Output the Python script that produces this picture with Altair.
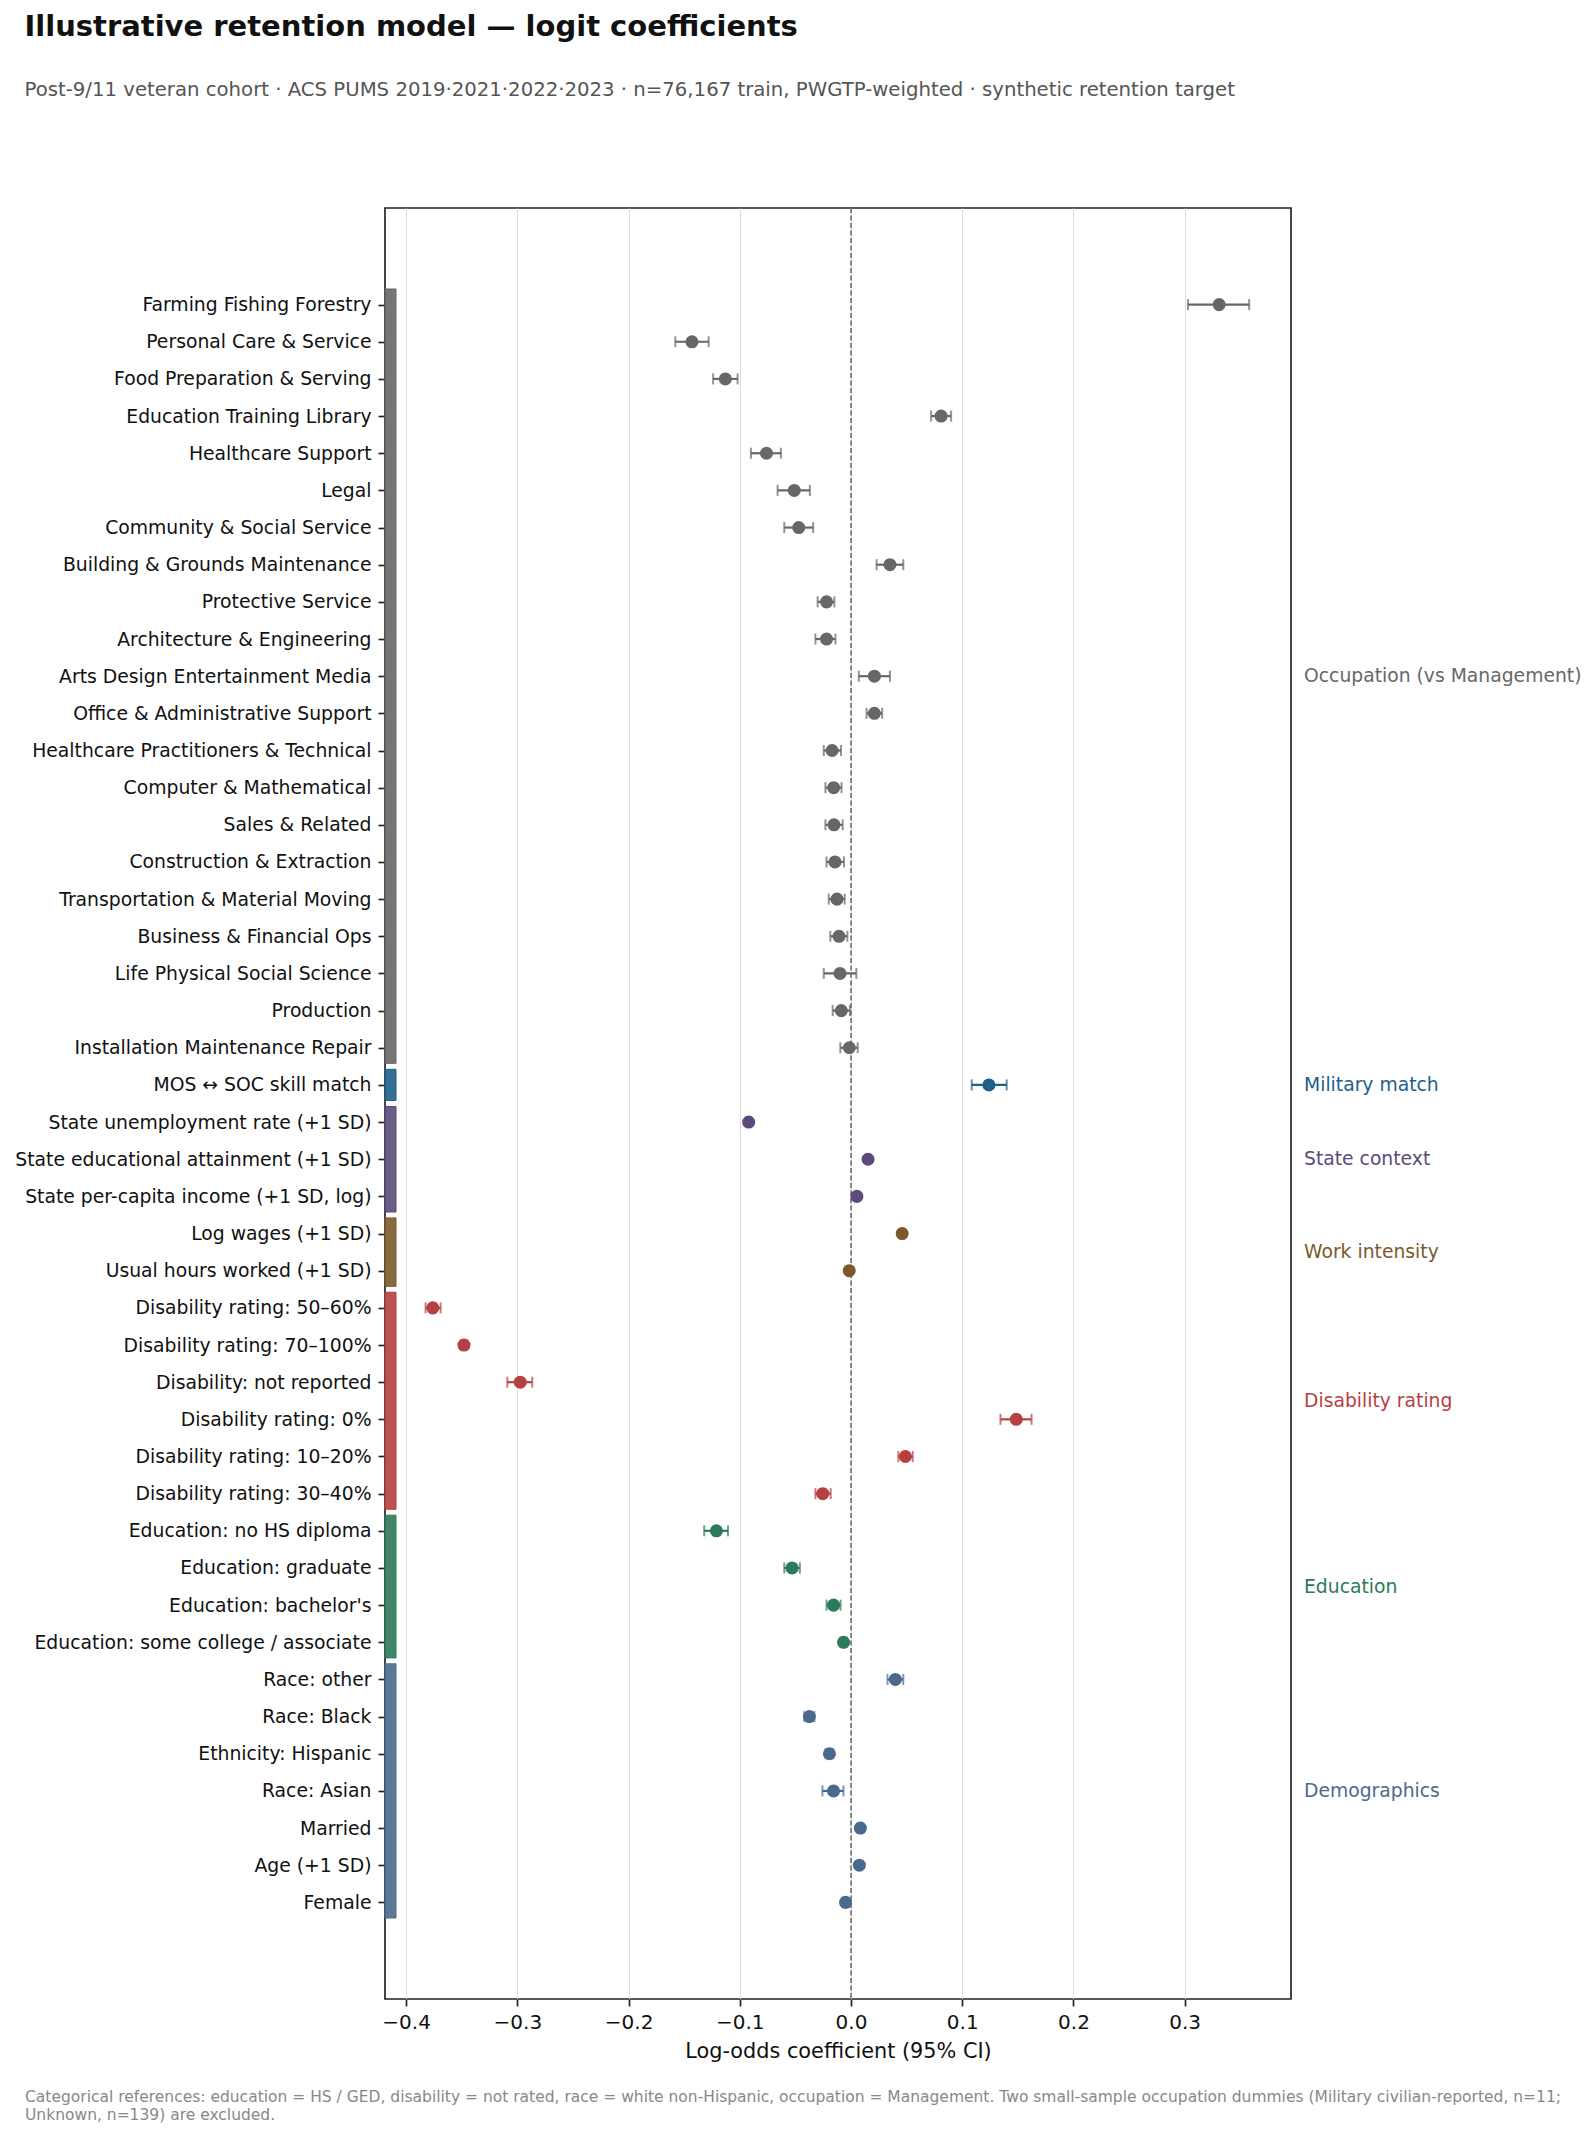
import json

import altair as alt
import pandas as pd

# ---- model terms, grouped as in the coefficient table ----
GROUPS = [
    "Occupation (vs Management)",
    "Military match",
    "State context",
    "Work intensity",
    "Disability rating",
    "Education",
    "Demographics",
]
GROUP_COLORS = ["#676767", "#1f5f8b", "#5b4a7b", "#7a5a2b", "#b63f3f", "#2b7a5a", "#4a6a8b"]

occ_terms = [
    "Farming Fishing Forestry", "Personal Care & Service", "Food Preparation & Serving",
    "Education Training Library", "Healthcare Support", "Legal", "Community & Social Service",
    "Building & Grounds Maintenance", "Protective Service", "Architecture & Engineering",
    "Arts Design Entertainment Media", "Office & Administrative Support",
    "Healthcare Practitioners & Technical", "Computer & Mathematical", "Sales & Related",
    "Construction & Extraction", "Transportation & Material Moving", "Business & Financial Ops",
    "Life Physical Social Science", "Production", "Installation Maintenance Repair",
]
occ_coef = [0.331, -0.143, -0.113, 0.081, -0.076, -0.051, -0.047, 0.035, -0.022, -0.022,
            0.021, 0.021, -0.017, -0.0156, -0.0153, -0.0144, -0.0126, -0.0108, -0.0099,
            -0.0087, -0.0015]
occ_lo = [0.303, -0.158, -0.124, 0.072, -0.090, -0.066, -0.060, 0.023, -0.030, -0.032,
          0.007, 0.014, -0.0245, -0.023, -0.023, -0.022, -0.020, -0.0186, -0.0245,
          -0.0165, -0.0096]
occ_hi = [0.358, -0.128, -0.102, 0.090, -0.063, -0.037, -0.034, 0.047, -0.015, -0.014,
          0.035, 0.028, -0.009, -0.0085, -0.0075, -0.0063, -0.0057, -0.0033, 0.0048,
          -0.001, 0.006]

mil_terms = ["MOS \u2194 SOC skill match"]
mil_coef = [0.124]
mil_lo = [0.1085]
mil_hi = [0.140]

state_terms = ["State unemployment rate (+1 SD)", "State educational attainment (+1 SD)",
               "State per-capita income (+1 SD, log)"]
state_coef = [-0.092, 0.0153, 0.0053]
state_lo = [-0.094, 0.0135, 0.0035]
state_hi = [-0.090, 0.0170, 0.0070]

work_terms = ["Log wages (+1 SD)", "Usual hours worked (+1 SD)"]
work_coef = [0.046, -0.0016]
work_lo = [0.044, -0.0035]
work_hi = [0.048, 0.0003]

dis_terms = ["Disability rating: 50\u201360%", "Disability rating: 70\u2013100%",
             "Disability: not reported", "Disability rating: 0%",
             "Disability rating: 10\u201320%", "Disability rating: 30\u201340%"]
dis_coef = [-0.376, -0.348, -0.2974, 0.1486, 0.0489, -0.0254]
dis_lo = [-0.3825, -0.351, -0.309, 0.1344, 0.0426, -0.032]
dis_hi = [-0.369, -0.345, -0.2866, 0.1623, 0.0555, -0.0183]

edu_terms = ["Education: no HS diploma", "Education: graduate", "Education: bachelor's",
             "Education: some college / associate"]
edu_coef = [-0.121, -0.053, -0.0157, -0.0067]
edu_lo = [-0.132, -0.060, -0.022, -0.0095]
edu_hi = [-0.1106, -0.046, -0.0094, -0.004]

demo_terms = ["Race: other", "Race: Black", "Ethnicity: Hispanic", "Race: Asian",
              "Married", "Age (+1 SD)", "Female"]
demo_coef = [0.0399, -0.0374, -0.0194, -0.0157, 0.0084, 0.0075, -0.0049]
demo_lo = [0.0328, -0.042, -0.023, -0.0257, 0.006, 0.006, -0.008]
demo_hi = [0.047, -0.033, -0.016, -0.0068, 0.011, 0.009, -0.002]

TITLE = "Illustrative retention model \u2014 logit coefficients"
SUBTITLE = ("Post-9/11 veteran cohort \u00b7 ACS PUMS 2019\u00b72021\u00b72022\u00b72023 \u00b7 "
            "n=76,167 train, PWGTP-weighted \u00b7 synthetic retention target")
FOOTER = [
    "Categorical references: education = HS / GED, disability = not rated, race = white "
    "non-Hispanic, occupation = Management. Two small-sample occupation dummies (Military "
    "civilian-reported, n=11;",
    "Unknown, n=139) are excluded.",
]
X_TICKS = [-0.4, -0.3, -0.2, -0.1, 0.0, 0.1, 0.2, 0.3]

# ---- assemble the long table ----
blocks = [
    (occ_terms, occ_coef, occ_lo, occ_hi),
    (mil_terms, mil_coef, mil_lo, mil_hi),
    (state_terms, state_coef, state_lo, state_hi),
    (work_terms, work_coef, work_lo, work_hi),
    (dis_terms, dis_coef, dis_lo, dis_hi),
    (edu_terms, edu_coef, edu_lo, edu_hi),
    (demo_terms, demo_coef, demo_lo, demo_hi),
]
records = []
for group, (terms, coefs, los, his) in zip(GROUPS, blocks):
    for term, c, lo, hi in zip(terms, coefs, los, his):
        records.append({"row": len(records), "term": term, "group": group,
                        "coef": c, "lo": lo, "hi": hi})
df = pd.DataFrame(records)
labels = df["term"].tolist()
n_rows = len(labels)

BAR_HALF = 0.42
spans = df.groupby("group", sort=False)["row"].agg(["min", "max"]).reset_index()
spans["y0"] = spans["min"] - BAR_HALF
spans["y1"] = spans["max"] + BAR_HALF
spans["mid"] = (spans["min"] + spans["max"]) / 2

# ---- layout (pixels) ----
W, H = 906, 1791
PAD = {"left": 385, "top": 208, "right": 1596 - 385 - W, "bottom": 2137 - 208 - H}
FONT = "DejaVu Sans"

x_scale = alt.Scale(domain=[-0.419, 0.3956], nice=False, zero=False)
y_scale = alt.Scale(domain=[-2.6, n_rows + 1.6], nice=False, zero=False, reverse=True)
color_scale = alt.Scale(domain=GROUPS, range=GROUP_COLORS)
color = alt.Color("group:N", scale=color_scale, legend=None)

label_expr = json.dumps(labels, ensure_ascii=False) + "[datum.value]"

# identical axis definitions in every layer so that they merge cleanly
X_AXIS = alt.Axis(values=X_TICKS, format=".1f", grid=True, gridColor="#dddddd",
                  gridWidth=1, domain=False, tickColor="#222222", tickSize=7,
                  tickWidth=1.67, labelFontSize=20, labelColor="#111111",
                  labelPadding=6, title="Log-odds coefficient (95% CI)",
                  titleFontSize=20.8, titleFontWeight="normal",
                  titleColor="#111111", titlePadding=9)
Y_AXIS = alt.Axis(values=list(range(n_rows)), labelExpr=label_expr, grid=False,
                  domain=False, tickColor="#222222", tickSize=7, tickWidth=1.67,
                  labelFontSize=18.8, labelColor="#111111", labelPadding=7,
                  labelLimit=500, title="")


def xq(field):
    return alt.X(field, type="quantitative", scale=x_scale, axis=X_AXIS)


def yq(field):
    return alt.Y(field, type="quantitative", scale=y_scale, axis=Y_AXIS)


base = alt.Chart(df)

points = base.mark_circle(size=170, opacity=1).encode(
    x=xq("coef"), y=yq("row"), color=color,
)

err = base.mark_rule(strokeWidth=2.2).encode(
    x=xq("lo"), x2="hi:Q", y=yq("row"), color=color,
)
cap_lo = base.mark_tick(orient="vertical", size=11, thickness=2).encode(
    x=xq("lo"), y=yq("row"), color=color,
)
cap_hi = base.mark_tick(orient="vertical", size=11, thickness=2).encode(
    x=xq("hi"), y=yq("row"), color=color,
)

zero = alt.Chart(pd.DataFrame({"z": [0.0]})).mark_rule(
    color="#666666", strokeWidth=1.5, strokeDash=[5, 2.5]
).encode(x=xq("z"))

group_bars = alt.Chart(spans).mark_bar(fillOpacity=0.9, strokeWidth=1, strokeOpacity=1).encode(
    x=alt.value(0), x2=alt.value(11),
    y=yq("y0"), y2="y1:Q",
    color=color, stroke=alt.Stroke("group:N", scale=color_scale, legend=None),
)

group_labels = alt.Chart(spans).mark_text(
    align="left", baseline="middle", fontSize=18.75, font=FONT
).encode(
    x=alt.value(W + 13), y=yq("mid"), text="group:N", color=color,
)

title = alt.Chart(pd.DataFrame({"t": [TITLE]})).mark_text(
    align="left", baseline="alphabetic", fontSize=29, fontWeight="bold", font=FONT, color="#111111"
).encode(x=alt.value(24.5 - PAD["left"]), y=alt.value(36 - PAD["top"]), text="t:N")

subtitle = alt.Chart(pd.DataFrame({"t": [SUBTITLE]})).mark_text(
    align="left", baseline="middle", fontSize=19.7, font=FONT, color="#555555"
).encode(x=alt.value(24.5 - PAD["left"]), y=alt.value(89.5 - PAD["top"]), text="t:N")

footer = alt.Chart(pd.DataFrame({"t": [0]})).mark_text(
    align="left", baseline="middle", fontSize=15.5, font=FONT, color="#888888", lineHeight=17.6
).encode(x=alt.value(25 - PAD["left"]), y=alt.value(2097 - PAD["top"]), text=alt.value(FOOTER))

chart = alt.layer(
    group_bars, zero, err, cap_lo, cap_hi, points, group_labels, title, subtitle, footer
).properties(
    width=W, height=H,
    autosize=alt.AutoSizeParams(type="none"),
    padding=PAD,
).configure(font=FONT, background="white").configure_view(
    stroke="#222222", strokeWidth=1.67
)

chart.save("out.html", embed_options={"renderer": "svg", "actions": False})
